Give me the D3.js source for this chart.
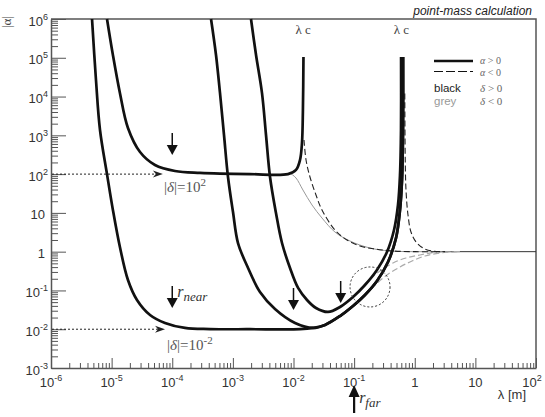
<!DOCTYPE html>
<html><head><meta charset="utf-8">
<script src="https://cdn.jsdelivr.net/npm/d3@7"></script>
<style>body{margin:0;background:#fff}svg{display:block}</style>
</head><body>
<svg id="c" width="545" height="417"></svg>
<script>
// ---------- data ----------
const xMajorTicks = [1e-6,1e-5,1e-4,1e-3,1e-2,1e-1,1,10,100];
const xTickLabels = ["10^-6","10^-5","10^-4","10^-3","10^-2","10^-1","1","10","10^2"];
const yMajorTicks = [1e-3,1e-2,1e-1,1,10,100,1e3,1e4,1e5,1e6];
const yTickLabels = ["10^-3","10^-2","10^-1","1","10","10^2","10^3","10^4","10^5","10^6"];

// |delta| = 1e-2, alpha > 0, delta > 0 (thick black)
const lamDeltaSmall   = [4.75e-6,5.52e-6,6.43e-6,8.39e-6,1.05e-5,1.37e-5,1.86e-5,2.62e-5,4.30e-5,7.59e-5,1.62e-4,4.2e-4,1.92e-3,1.28e-2,2.10e-2,3.31e-2,5.85e-2,9.58e-2,0.151,0.238,0.362,0.491,0.571,0.616,0.640,0.642];
const alphaDeltaSmall = [1e6,2.67e4,1.37e3,100,11.9,1.32,0.186,0.0568,0.0233,0.0145,0.0108,0.0101,0.01,0.01,0.0108,0.0129,0.0219,0.0397,0.0764,0.175,0.542,2.25,11.9,70.5,1370,1.05e5];

// |delta| = 1e2 (thick black)
const lamDeltaLarge   = [8.39e-6,1.05e-5,1.37e-5,1.86e-5,2.94e-5,5.19e-5,1.11e-4,2.87e-4,1.92e-3,8.11e-3,1.10e-2,1.28e-2,1.38e-2,1.43e-2,1.46e-2];
const alphaDeltaLarge = [1e6,1.18e5,1.24e4,1.55e3,372,172,120,107,100,100,128,231,634,4.5e3,1.05e5];

// intermediate r_near cases (thick black)
const lamNear2   = [4.36e-4,5.27e-4,6.13e-4,7.14e-4,8.31e-4,1.005e-3,1.215e-3,1.78e-3,2.80e-3,4.95e-3,1.06e-2,2.10e-2,3.31e-2,5.85e-2,9.58e-2,0.151,0.238,0.362,0.491,0.571,0.616,0.640,0.642];
const alphaNear2 = [1e6,1.18e5,1.24e4,1.02e3,84.3,10.5,1.67,0.379,0.0912,0.0333,0.0145,0.0108,0.0129,0.0219,0.0397,0.0764,0.175,0.542,2.25,11.9,70.5,1370,1.05e5];

const lamNear3   = [1.99e-3,2.41e-3,3.02e-3,3.52e-3,4.10e-3,5.14e-3,6.46e-3,8.76e-3,1.19e-2,1.67e-2,2.35e-2,3.71e-2,5.85e-2,9.58e-2,0.151,0.238,0.348,0.455,0.529,0.571,0.593,0.595];
const alphaNear3 = [1e6,1.18e5,1.24e4,1.02e3,84.3,9.94,1.67,0.379,0.116,0.0568,0.0353,0.0279,0.0374,0.0678,0.138,0.337,0.98,3.62,16.0,94.8,1370,1.05e5];

// alpha < 0, delta > 0 beyond first lambda_c (black dashed)
const lamNegA1   = [1.49e-2,1.61e-2,1.87e-2,2.35e-2,2.95e-2,4.83e-2,7.63e-2,0.125,0.221,0.438,1.01,2.61];
const alphaNegA1 = [759,231,84.3,29.0,11.9,3.62,2.0,1.40,1.17,1.04,1.0,1.0];

// delta < 0 branch from |delta|=1e2 plateau (grey solid)
const lamNegD1   = [8.76e-3,1.10e-2,1.43e-2,2.02e-2,2.95e-2,4.83e-2,8.55e-2,0.183,0.391,1.22,2.61];
const alphaNegD1 = [107,79.4,39.0,16.0,7.38,3.21,1.88,1.24,1.04,1.0,1.0];

// alpha < 0 beyond second lambda_c (black dashed)
const lamNegA2   = [0.685,0.697,0.717,0.774,0.867,1.05,1.37,1.93,3.16];
const alphaNegA2 = [1.2e4,231,39.0,8.83,3.21,1.78,1.24,1.04,1.0];

// delta < 0 branches near r_far (grey dashed)
const lamNegD2a   = [0.151,0.221,0.348,0.571,0.901,1.48,2.61,5.58];
const alphaNegD2a = [0.0764,0.138,0.251,0.403,0.575,0.774,0.925,1.0];
const lamNegD2b   = [0.116,0.169,0.267,0.438,0.717,1.22,2.16,5.58];
const alphaNegD2b = [0.0912,0.175,0.318,0.511,0.687,0.820,0.96,1.0];

// |alpha| -> 1 asymptote
const lamUnity   = [2.5,100];
const alphaUnity = [1,1];

// annotation anchors
const downArrowLam   = [1e-4,1e-4,1e-2,0.06];
const downArrowAlpha = [311,0.0353,0.0313,0.0475];
const deltaArrowLevels = [100,0.01];
const deltaArrowTips   = [7.0e-5,7.6e-5];
const lambdaC = [1.44e-2,0.6];
const rFar = 0.1;

// ---------- scales ----------
const svg = d3.select("#c");
const x = d3.scaleLog().domain([1e-6,1e2]).range([51,536]);
const y = d3.scaleLog().domain([1e-3,1e6]).range([368,19]);
const sans = "'Liberation Sans', Arial, sans-serif";
const serif = "'Liberation Serif', 'Times New Roman', serif";
const axisCol = "#555";

function minorTicks(lo, hi){
  const out=[];
  for(let e=lo;e<hi;e++) for(let k=2;k<=9;k++) out.push(k*Math.pow(10,e));
  return out;
}
const xMinor = minorTicks(-6,2);
const yMinor = minorTicks(-3,6);

function writeLabel(sel, lbl){
  const parts = lbl.split("^");
  sel.append("tspan").text(parts[0]);
  if(parts[1]) sel.append("tspan").attr("dy",-6).attr("font-size",9).text(parts[1]);
}

// ---------- axes ----------
const xAxis = svg.append("g").attr("transform","translate(0,368)")
  .call(d3.axisBottom(x).tickValues(xMajorTicks.concat(xMinor)).tickSizeInner(-10).tickSizeOuter(0).tickFormat(()=>""));
xAxis.selectAll(".tick line").attr("y2", d=> xMajorTicks.includes(d)? -10 : -5).attr("stroke",axisCol);
xAxis.select(".domain").attr("stroke",axisCol).attr("stroke-width",1.5);
xAxis.selectAll(".tick text").remove();
xMajorTicks.forEach((v,i)=>{
  const t = svg.append("text").attr("x",x(v) - (i===xMajorTicks.length-1?4:0)).attr("y",386.5).attr("text-anchor","middle")
    .attr("font-family",sans).attr("font-size",13).attr("fill","#333");
  writeLabel(t, xTickLabels[i]);
});

const yAxis = svg.append("g").attr("transform","translate(51,0)")
  .call(d3.axisLeft(y).tickValues(yMajorTicks.concat(yMinor)).tickSizeInner(-15).tickSizeOuter(0).tickFormat(()=>""));
yAxis.selectAll(".tick line").attr("x2", d=> yMajorTicks.includes(d)? 15 : 7).attr("stroke",axisCol);
yAxis.select(".domain").attr("stroke",axisCol).attr("stroke-width",1.5);
yAxis.selectAll(".tick text").remove();
yMajorTicks.forEach((v,i)=>{
  const sup = yTickLabels[i].includes("^");
  const t = svg.append("text").attr("x", sup?48:45).attr("y",y(v)+6.5).attr("text-anchor","end")
    .attr("font-family",sans).attr("font-size",13).attr("fill","#333");
  writeLabel(t, yTickLabels[i]);
});

// frame top & right
svg.append("path").attr("d",`M51,${y(1e6)}H${x(100)}V${y(1e-3)}`).attr("fill","none").attr("stroke",axisCol).attr("stroke-width",1.5);

// ---------- curves ----------
const line = d3.line().x(d=>x(d[0])).y(d=>y(d[1])).curve(d3.curveCatmullRom.alpha(0.5));
function zip(a,b){ return a.map((v,i)=>[v,b[i]]); }
function draw(lam, alp, stroke, width, dash){
  svg.append("path").attr("d", line(zip(lam,alp))).attr("fill","none")
    .attr("stroke",stroke).attr("stroke-width",width).attr("stroke-dasharray",dash||null)
    .attr("stroke-linejoin","round");
}
draw(lamUnity, alphaUnity, "#333", 1);
draw(lamNegD1, alphaNegD1, "#999", 1);
draw(lamNegD2a, alphaNegD2a, "#aaa", 1.2, "6,3");
draw(lamNegD2b, alphaNegD2b, "#aaa", 1.2, "6,3");
draw(lamNegA1, alphaNegA1, "#222", 1.1, "6,3");
draw(lamNegA2, alphaNegA2, "#222", 1.1, "6,3");
draw(lamDeltaSmall, alphaDeltaSmall, "#111", 2.7);
draw(lamDeltaLarge, alphaDeltaLarge, "#111", 2.7);
draw(lamNear2, alphaNear2, "#111", 2.7);
draw(lamNear3, alphaNear3, "#111", 2.7);

// ---------- annotations ----------
deltaArrowLevels.forEach((lv,i)=>{
  const yy = y(lv), tx = x(deltaArrowTips[i]);
  svg.append("line").attr("x1",52).attr("x2",tx-6).attr("y1",yy).attr("y2",yy)
    .attr("stroke","#222").attr("stroke-width",1).attr("stroke-dasharray","2,2");
  svg.append("path").attr("d",`M${tx},${yy}L${tx-10},${yy-3.5}L${tx-7},${yy}L${tx-10},${yy+3.5}Z`).attr("fill","#222");
});
function deltaLabel(xx, yy, exp){
  const t = svg.append("text").attr("x",xx).attr("y",yy).attr("font-family",serif).attr("font-size",15).attr("fill","#555");
  t.append("tspan").text("|");
  t.append("tspan").attr("font-style","italic").text("δ");
  t.append("tspan").text("|=10");
  t.append("tspan").attr("dy",-6).attr("font-size",11).text(exp);
}
deltaLabel(164, 192, "2");
deltaLabel(167, 350, "-2");

downArrowLam.forEach((l,i)=>{
  const xx = x(l), ty = y(downArrowAlpha[i]);
  svg.append("line").attr("x1",xx).attr("x2",xx).attr("y1",ty-22).attr("y2",ty-9).attr("stroke","#111").attr("stroke-width",1.5);
  svg.append("path").attr("d",`M${xx-5.5},${ty-10}L${xx+5.5},${ty-10}L${xx},${ty}Z`).attr("fill","#111");
});
const rn = svg.append("text").attr("x",x(1e-4)+5).attr("y",y(0.0353)-11).attr("font-family",serif).attr("font-style","italic").attr("fill","#333");
rn.append("tspan").attr("font-size",16).text("r");
rn.append("tspan").attr("font-size",13).attr("dy",4).text("near");

const fx = x(rFar);
svg.append("line").attr("x1",fx).attr("x2",fx).attr("y1",396).attr("y2",413).attr("stroke","#111").attr("stroke-width",2.2);
svg.append("path").attr("d",`M${fx-5.5},${397}L${fx+5.5},${397}L${fx},${385}Z`).attr("fill","#111");
const rf = svg.append("text").attr("x",fx+5).attr("y",403).attr("font-family",serif).attr("font-style","italic").attr("fill","#333");
rf.append("tspan").attr("font-size",16).text("r");
rf.append("tspan").attr("font-size",13).attr("dy",4).text("far");

svg.append("circle").attr("cx",x(0.183)).attr("cy",y(0.123)).attr("r",20)
  .attr("fill","none").attr("stroke","#333").attr("stroke-width",1).attr("stroke-dasharray","2,2");

lambdaC.forEach(l=>{
  svg.append("text").attr("x",x(l)).attr("y",34).attr("text-anchor","middle")
    .attr("font-family",serif).attr("font-size",13).attr("fill","#444").text("λ c");
});

// legend
svg.append("line").attr("x1",434).attr("x2",473).attr("y1",61).attr("y2",61).attr("stroke","#111").attr("stroke-width",2.6);
svg.append("line").attr("x1",434).attr("x2",473).attr("y1",71.5).attr("y2",71.5).attr("stroke","#111").attr("stroke-width",1.1).attr("stroke-dasharray","9,3");
function legendSym(yy, sym, op, fs){
  const t = svg.append("text").attr("x",480).attr("y",yy).attr("font-family",serif).attr("font-size",fs).attr("fill","#666");
  t.append("tspan").attr("font-style","italic").text(sym);
  t.append("tspan").text(" "+op+" 0");
}
legendSym(64,"α",">",10);
legendSym(75.5,"α","<",10);
svg.append("text").attr("x",434).attr("y",92).attr("font-family",sans).attr("font-size",11.5).attr("fill","#222").text("black");
svg.append("text").attr("x",434).attr("y",104.5).attr("font-family",sans).attr("font-size",11.5).attr("fill","#999").text("grey");
legendSym(92,"δ",">",11);
legendSym(104.5,"δ","<",11);

// titles
svg.append("text").attr("x",532).attr("y",15).attr("text-anchor","end").attr("font-family",sans)
  .attr("font-style","italic").attr("font-size",12).attr("fill","#222").text("point-mass calculation");
svg.append("text").attr("x",526).attr("y",399).attr("text-anchor","end").attr("font-family",sans)
  .attr("font-size",13).attr("fill","#333").text("λ [m]");
svg.append("text").attr("transform","translate(11,22) rotate(-90)").attr("text-anchor","middle")
  .attr("font-family",serif).attr("font-size",13).attr("fill","#444").text("|α|");
</script>
</body></html>
